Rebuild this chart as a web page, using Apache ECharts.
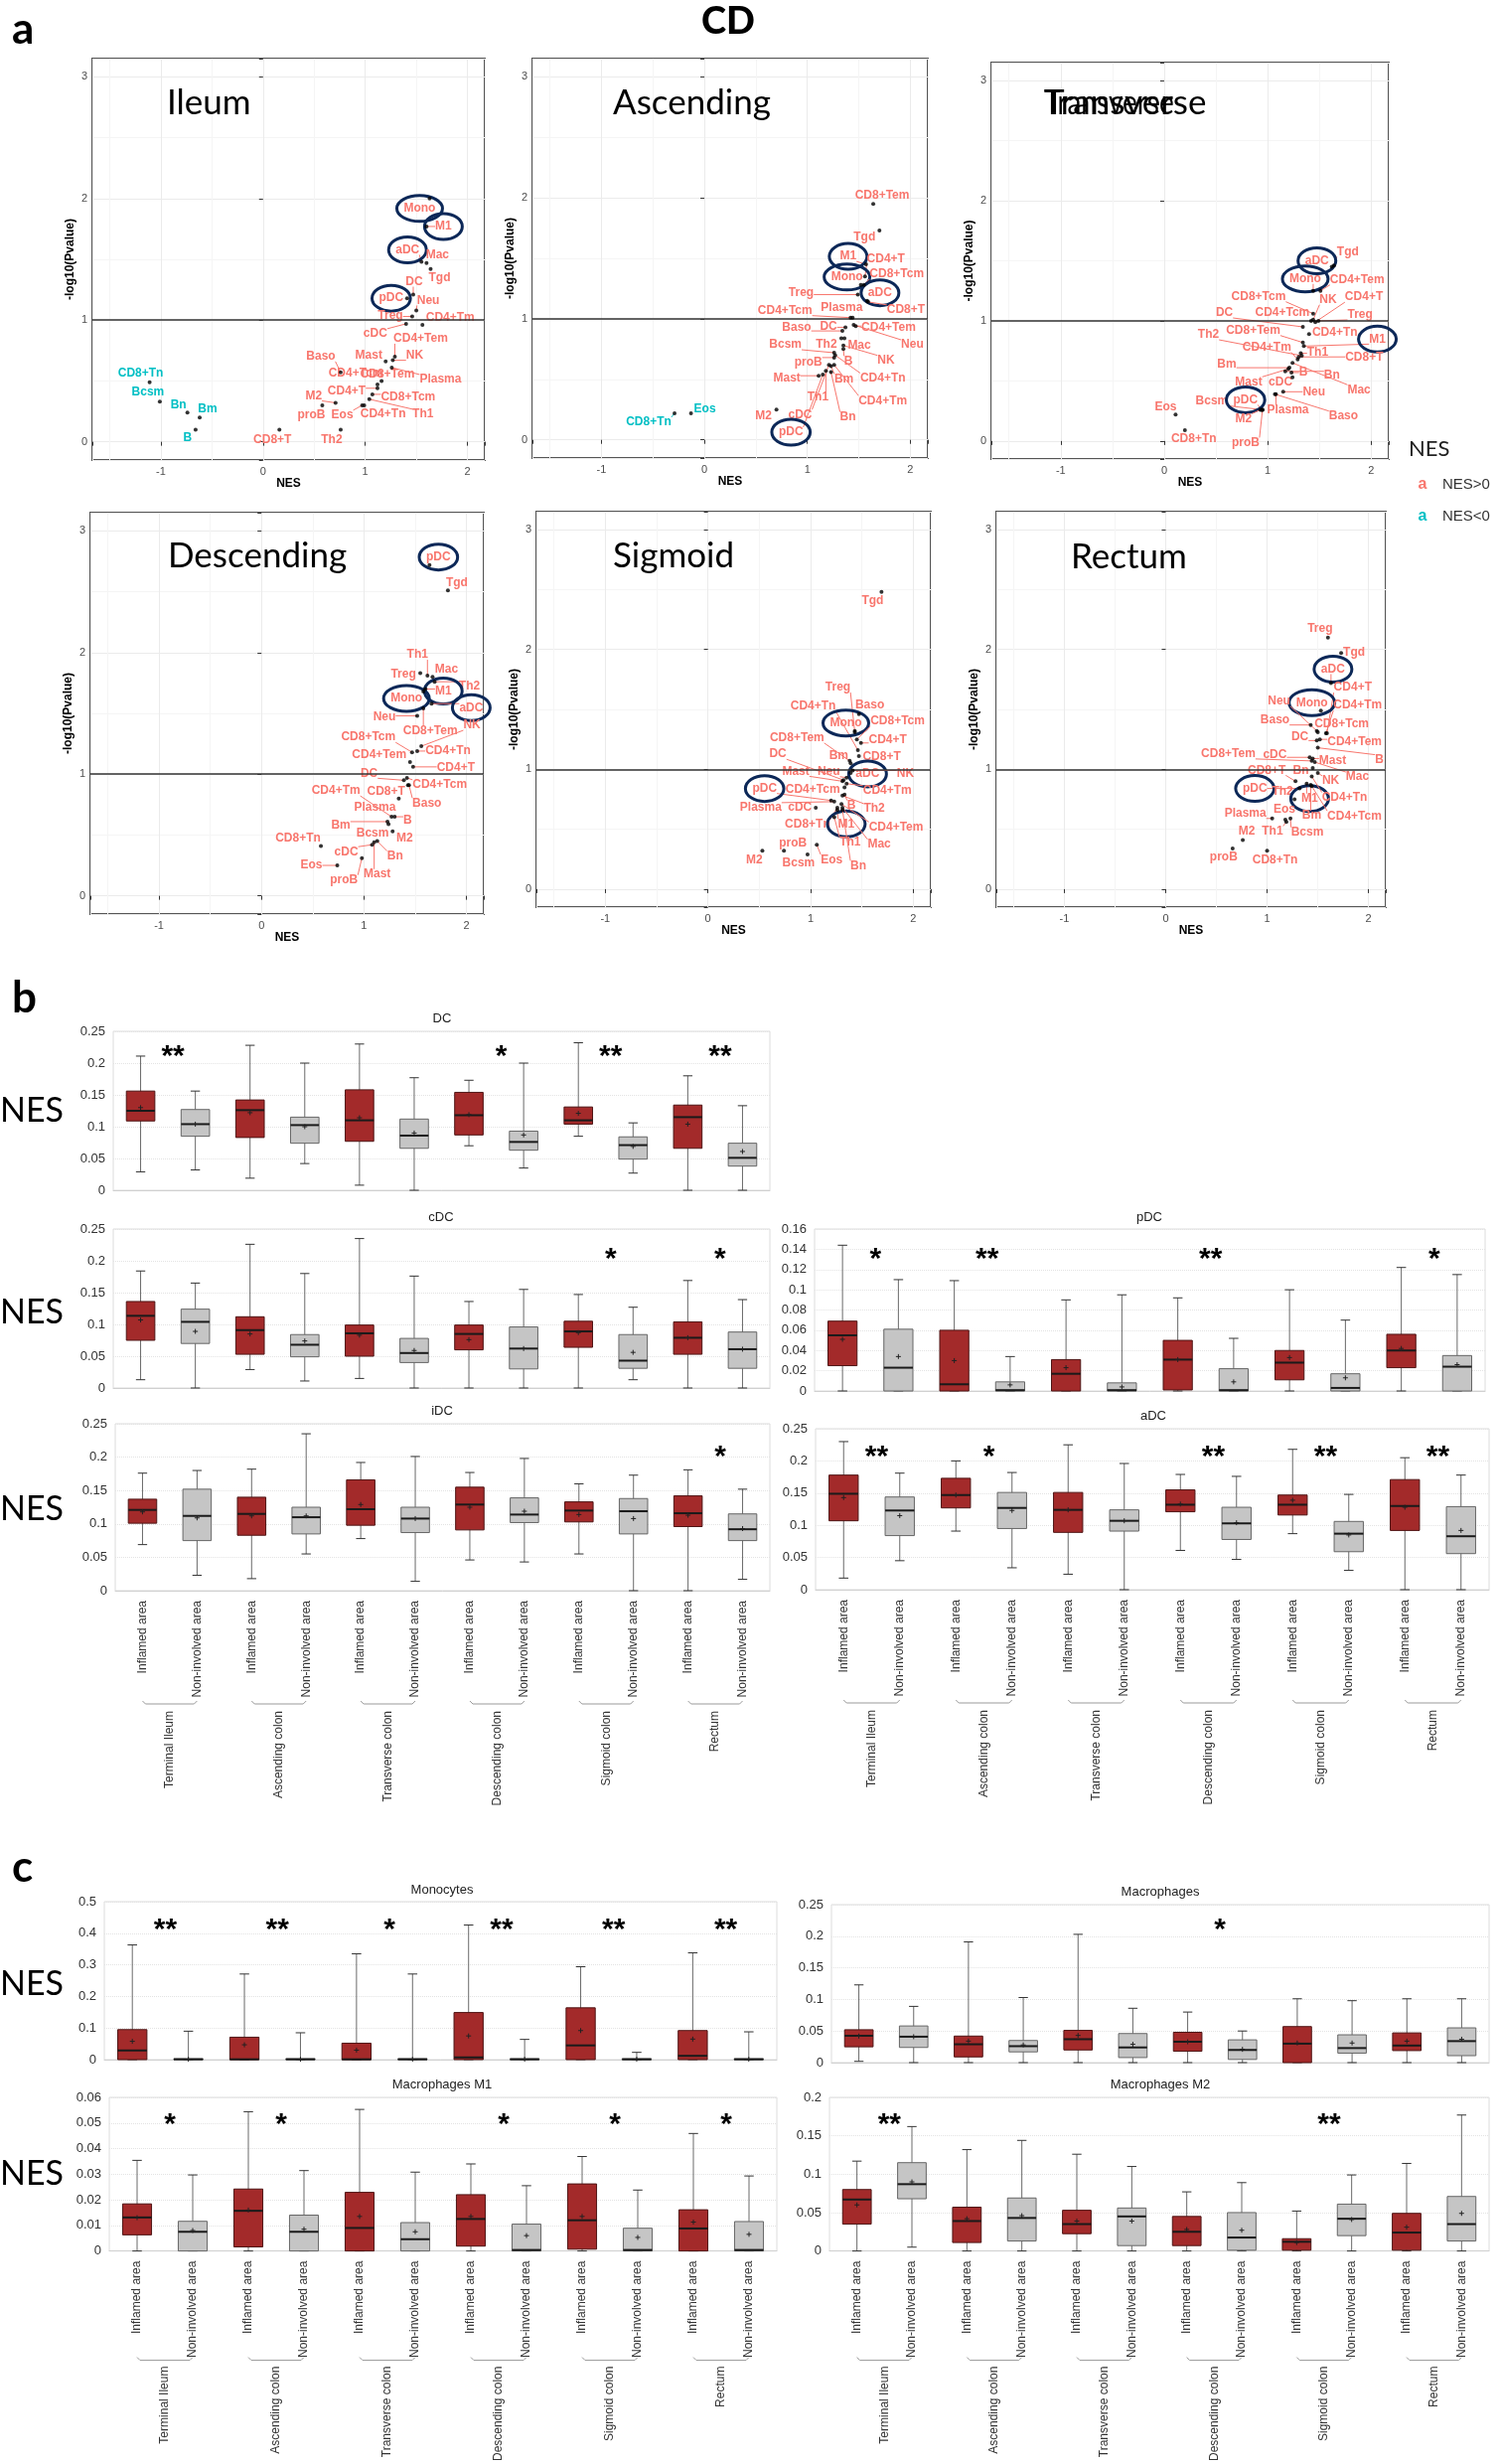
<!DOCTYPE html>
<html><head><meta charset="utf-8">
<script src="https://cdn.jsdelivr.net/npm/echarts@6/dist/echarts.min.js"></script>
<style>html,body{margin:0;padding:0;background:#fff}#c{width:1509px;height:2480px}</style>
</head><body><div id="c"></div>
<script>
// ======================= DATA : panel a (NES vs -log10 P) =======================
const ileumNames = ['Mono','M1','aDC','Mac','Tgd','DC','pDC','Neu','Treg','CD4+Tm','cDC','CD4+Tem','NK','Mast','Plasma','Baso','CD4+Tcm','CD8+Tem','CD4+T','CD8+Tcm','M2','CD4+Tn','Th1','proB','Eos','Th2','CD8+T','CD8+Tn','Bcsm','Bn','Bm','B'];
const ileumNES   = [1.63,1.60,1.55,1.60,1.64,1.47,1.41,1.50,1.46,1.56,1.40,1.29,1.27,1.20,1.26,0.76,1.16,1.12,1.12,1.07,0.71,0.99,1.04,0.58,0.97,0.76,0.16,-1.11,-1.01,-0.74,-0.62,-0.66];
const ileumLogP  = [2.00,1.77,1.48,1.47,1.42,1.21,1.18,1.08,1.03,0.96,0.97,0.70,0.67,0.66,0.61,0.57,0.50,0.47,0.44,0.39,0.32,0.30,0.35,0.30,0.30,0.10,0.10,0.49,0.33,0.24,0.20,0.10];

const ascNames = ['CD8+Tem','Tgd','M1','CD4+T','Mono','CD8+Tcm','aDC','Treg','CD8+T','CD4+Tcm','Plasma','Baso','DC','CD4+Tem','Neu','Bcsm','Th2','Mac','NK','proB','B','CD4+Tn','Mast','Bm','CD4+Tm','Th1','Bn','M2','cDC','pDC','Eos','CD8+Tn'];
const ascNES   = [1.64,1.70,1.57,1.56,1.52,1.55,1.58,1.49,1.59,1.42,1.44,1.34,1.37,1.47,1.45,1.26,1.33,1.36,1.35,1.26,1.35,1.27,1.11,1.23,1.26,1.18,1.23,0.70,1.21,1.15,-0.13,-0.29];
const ascLogP  = [1.95,1.73,1.45,1.35,1.28,1.28,1.15,1.20,1.14,1.01,1.01,0.90,0.93,0.94,0.95,0.72,0.84,0.84,0.78,0.68,0.75,0.70,0.53,0.61,0.62,0.57,0.56,0.25,0.62,0.54,0.22,0.22];

const trvNames = ['Tgd','aDC','Mono','CD4+Tem','CD8+Tcm','NK','CD4+T','DC','CD4+Tcm','Treg','Th2','CD8+Tem','CD4+Tn','M1','CD4+Tm','Th1','CD8+T','Bm','B','Bn','Mac','Mast','cDC','Neu','Baso','Bcsm','pDC','Plasma','M2','proB','Eos','CD8+Tn'];
const trvNES   = [1.64,1.62,1.44,1.51,1.44,1.44,1.46,1.34,1.42,1.49,1.33,1.34,1.40,1.35,1.29,1.32,1.30,1.21,1.23,1.17,1.24,1.20,1.24,1.15,1.07,0.95,0.94,1.08,0.93,0.95,0.11,0.20];
const trvLogP  = [1.46,1.45,1.25,1.25,1.06,1.01,0.99,0.95,1.00,1.00,0.71,0.82,0.89,0.79,0.68,0.73,0.70,0.61,0.57,0.58,0.65,0.60,0.53,0.41,0.39,0.26,0.26,0.39,0.26,0.26,0.22,0.09];

const desNames = ['pDC','Tgd','Th1','Mac','Treg','Th2','M1','Mono','aDC','Neu','CD8+Tem','NK','CD8+Tcm','CD4+Tn','CD4+Tem','CD4+T','DC','CD4+Tcm','CD4+Tm','CD8+T','Baso','Plasma','B','Bm','Bcsm','M2','CD8+Tn','cDC','Bn','Mast','Eos','proB'];
const desNES   = [1.64,1.82,1.62,1.67,1.55,1.69,1.60,1.58,1.66,1.52,1.58,1.56,1.47,1.52,1.45,1.48,1.39,1.42,1.27,1.43,1.44,1.34,1.30,1.23,1.24,1.28,0.58,1.08,1.13,1.10,0.74,0.98];
const desLogP  = [2.72,2.51,1.81,1.80,1.83,1.76,1.70,1.68,1.58,1.48,1.54,1.23,1.18,1.19,1.10,1.06,0.95,0.97,0.65,0.91,0.91,0.80,0.65,0.61,0.59,0.53,0.41,0.42,0.45,0.44,0.25,0.31];

const sigNames = ['Tgd','Treg','Baso','CD4+Tn','Mono','CD8+Tcm','CD4+T','CD8+Tem','Bm','CD8+T','DC','Mast','Neu','aDC','NK','pDC','CD4+Tcm','CD4+Tm','Plasma','cDC','B','Th2','CD8+Tn','M1','CD4+Tem','Th1','Mac','Bn','proB','M2','Bcsm','Eos'];
const sigNES   = [1.69,1.43,1.47,1.46,1.43,1.45,1.49,1.38,1.39,1.47,1.32,1.31,1.35,1.39,1.41,1.20,1.33,1.35,1.23,1.05,1.33,1.31,1.26,1.26,1.30,1.23,1.31,1.31,0.74,0.53,0.97,1.06];
const sigLogP  = [2.48,1.31,1.46,1.16,1.32,1.25,1.22,1.07,1.05,1.11,0.91,0.90,0.93,0.97,0.99,0.74,0.85,0.88,0.73,0.68,0.79,0.78,0.68,0.66,0.71,0.60,0.68,0.66,0.32,0.32,0.29,0.37];

const recNames = ['Treg','Tgd','aDC','CD4+T','Mono','Neu','CD4+Tm','Baso','CD8+Tcm','DC','CD4+Tem','B','CD8+Tem','cDC','Mast','Mac','CD8+T','Bn','NK','pDC','Th2','M1','CD4+Tn','Bm','CD4+Tcm','Plasma','Eos','Bcsm','Th1','M2','proB','CD8+Tn'];
const recNES   = [1.60,1.73,1.63,1.59,1.53,1.49,1.58,1.43,1.50,1.49,1.52,1.50,1.44,1.42,1.45,1.47,1.28,1.45,1.50,1.32,1.27,1.39,1.44,1.43,1.44,1.05,1.18,1.23,1.19,0.76,0.66,1.00];
const recLogP  = [2.10,1.97,1.72,1.30,1.49,1.32,1.30,1.37,1.31,1.24,1.25,1.18,1.07,1.10,1.09,1.06,0.90,1.01,0.97,0.84,0.75,0.88,0.94,0.87,0.86,0.59,0.58,0.59,0.56,0.41,0.34,0.32];

const circledCells = ['Mono','M1','aDC','pDC'];
const nesThreshold = 1;   // reference line at -log10(P) = 1

// label placement (pixel offsets of each label from its point, like ggrepel) – layout only
const ileumLabelPos = [[-10,10],[17,0],[-14,-12],[11,-8],[9,9],[1,-13],[-16,0],[12,-10],[-22,-1],[28,-7],[-31,10],[26,-18],[22,-5],[-17,-6],[49,12],[-20,-16],[-26,-8],[10,-10],[-31,3],[36,3],[-22,-7],[19,9],[54,15],[-11,10],[-20,10],[-9,10],[-7,10],[-9,-9],[-12,-10],[-9,-8],[8,-8],[-8,8]];
const ascLabelPos = [[9,-8],[-15,7],[-18,-8],[21,-18],[-14,-8],[33,-11],[13,-8],[-57,-2],[38,8],[-66,-7],[-11,-10],[-46,-3],[-17,-1],[33,1],[59,20],[-49,-8],[-15,6],[15,7],[43,15],[-26,5],[5,12],[48,23],[-32,3],[13,13],[49,36],[-8,26],[17,45],[-13,6],[-29,50],[-32,58],[14,-4],[-26,9]];
const trvLabelPos = [[14,-14],[-15,-6],[-8,-12],[37,-11],[-55,-17],[15,-20],[49,-25],[-79,-14],[-29,-8],[42,-6],[-94,-21],[-50,-12],[26,-2],[74,-7],[-31,-12],[17,-1],[66,0],[-63,-3],[12,0],[47,4],[67,27],[-40,13],[-12,5],[31,0],[69,22],[-51,-9],[-16,-10],[12,16],[-17,9],[-17,33],[-10,-8],[9,9]];
const desLabelPos = [[9,-8],[9,-8],[-10,-21],[14,-8],[-17,1],[35,5],[18,2],[-17,7],[40,4],[-33,1],[7,23],[51,-21],[-44,-15],[31,0],[-31,-7],[43,1],[-35,-7],[33,7],[-56,-26],[-22,6],[18,18],[-24,9],[13,4],[-47,4],[-16,9],[12,7],[-23,-8],[-26,7],[18,15],[3,32],[-26,0],[-18,22]];
const sigLabelPos = [[-9,9],[-17,-45],[11,-9],[-45,-44],[-9,-8],[41,-18],[27,-3],[-53,-23],[-12,-8],[23,1],[-66,-26],[-47,-10],[-18,-6],[17,1],[53,3],[-67,-12],[-32,2],[41,7],[-74,6],[-16,0],[7,11],[32,13],[-30,17],[9,14],[55,23],[16,25],[37,37],[16,56],[9,-8],[-8,9],[-9,9],[15,15]];
const recLabelPos = [[-8,-9],[13,-1],[2,-14],[26,-46],[-9,-8],[-38,-30],[32,-28],[-36,-5],[24,-8],[-17,-4],[35,3],[62,12],[-84,-7],[-35,-3],[20,2],[43,15],[-29,-11],[-12,3],[13,8],[-45,0],[-12,-8],[3,15],[33,21],[1,31],[43,30],[-27,-5],[-1,-10],[17,14],[-14,9],[4,-9],[-9,9],[8,9]];

// ======================= DATA : panels b & c (box plots) =======================
// each box: [min, Q1, median, Q3, max, mean]
const areaCats  = ['Inflamed area','Non-involved area','Inflamed area','Non-involved area','Inflamed area','Non-involved area','Inflamed area','Non-involved area','Inflamed area','Non-involved area','Inflamed area','Non-involved area'];
const groupCats = ['Terminal Ileum','Ascending colon','Transverse colon','Descending colon','Sigmoid colon','Rectum'];

const dcStats = [[0.029,0.109,0.125,0.156,0.211,0.130],[0.032,0.085,0.104,0.127,0.156,0.104],[0.019,0.083,0.126,0.142,0.228,0.122],[0.042,0.074,0.1025,0.115,0.200,0.100],[0.008,0.077,0.110,0.158,0.230,0.114],[0.000,0.066,0.086,0.112,0.177,0.090],[0.070,0.087,0.118,0.154,0.173,0.119],[0.035,0.063,0.076,0.093,0.200,0.087],[0.085,0.104,0.110,0.131,0.232,0.121],[0.027,0.049,0.071,0.084,0.106,0.069],[0.000,0.066,0.115,0.134,0.180,0.104],[0.000,0.038,0.051,0.074,0.133,0.061]];
const cdcStats = [[0.013,0.075,0.1135,0.136,0.184,0.107],[0.000,0.070,0.104,0.124,0.165,0.089],[0.029,0.053,0.091,0.112,0.226,0.085],[0.011,0.049,0.068,0.084,0.180,0.074],[0.015,0.050,0.086,0.099,0.235,0.083],[0.000,0.040,0.055,0.078,0.176,0.059],[0.000,0.060,0.085,0.099,0.136,0.076],[0.000,0.030,0.062,0.096,0.155,0.062],[0.000,0.064,0.089,0.105,0.147,0.087],[0.013,0.031,0.043,0.084,0.127,0.056],[0.000,0.053,0.079,0.104,0.169,0.079],[0.000,0.031,0.061,0.088,0.139,0.061]];
const pdcStats = [[0,0.025,0.055,0.069,0.144,0.051],[0,0,0.023,0.061,0.110,0.034],[0,0,0.0066,0.060,0.109,0.030],[0,0,0.0008,0.009,0.034,0.006],[0,0,0.017,0.031,0.090,0.023],[0,0,0.0008,0.008,0.095,0.004],[0,0.001,0.031,0.050,0.092,0.031],[0,0,0.0008,0.022,0.052,0.009],[0,0.011,0.028,0.040,0.100,0.033],[0,0,0.003,0.017,0.070,0.013],[0,0.023,0.040,0.056,0.122,0.042],[0,0,0.024,0.035,0.115,0.026]];
const idcStats = [[0.069,0.101,0.121,0.137,0.176,0.118],[0.023,0.075,0.112,0.152,0.180,0.109],[0.018,0.083,0.115,0.140,0.182,0.112],[0.055,0.085,0.110,0.125,0.235,0.112],[0.078,0.098,0.122,0.166,0.192,0.129],[0.014,0.087,0.108,0.125,0.201,0.108],[0.046,0.091,0.129,0.155,0.177,0.125],[0.043,0.102,0.114,0.139,0.198,0.119],[0.055,0.103,0.120,0.133,0.160,0.114],[0.000,0.085,0.119,0.138,0.173,0.108],[0.000,0.096,0.116,0.142,0.181,0.113],[0.017,0.075,0.092,0.115,0.152,0.093]];
const adcStats = [[0.018,0.107,0.149,0.178,0.230,0.143],[0.045,0.084,0.123,0.144,0.181,0.115],[0.091,0.127,0.147,0.173,0.200,0.147],[0.034,0.095,0.127,0.151,0.182,0.123],[0.024,0.089,0.124,0.151,0.225,0.124],[0.000,0.091,0.107,0.124,0.196,0.107],[0.061,0.121,0.132,0.155,0.179,0.133],[0.047,0.078,0.103,0.128,0.176,0.104],[0.087,0.116,0.132,0.147,0.218,0.139],[0.030,0.059,0.087,0.106,0.148,0.085],[0.000,0.092,0.130,0.171,0.205,0.128],[0.000,0.056,0.083,0.129,0.178,0.092]];
const monoStats = [[0,0,0.029,0.095,0.363,0.058],[0,0,0.001,0.003,0.090,0.001],[0,0,0.001,0.071,0.271,0.047],[0,0,0.001,0.003,0.085,0.001],[0,0,0.001,0.052,0.335,0.030],[0,0,0.001,0.003,0.271,0.001],[0,0,0.007,0.149,0.426,0.075],[0,0,0.001,0.003,0.064,0.001],[0,0,0.045,0.164,0.294,0.092],[0,0,0.001,0.003,0.023,0.001],[0,0,0.012,0.092,0.338,0.065],[0,0,0.001,0.003,0.088,0.001]];
const macStats = [[0.002,0.025,0.0425,0.052,0.123,0.042],[0,0.024,0.041,0.058,0.089,0.041],[0,0.009,0.029,0.042,0.191,0.034],[0,0.017,0.026,0.035,0.103,0.028],[0,0.020,0.037,0.051,0.203,0.043],[0,0.008,0.024,0.046,0.086,0.029],[0,0.018,0.033,0.048,0.080,0.033],[0,0.005,0.020,0.036,0.050,0.021],[0,0,0.030,0.057,0.101,0.031],[0,0.015,0.023,0.044,0.098,0.031],[0,0.019,0.027,0.047,0.101,0.034],[0,0.011,0.034,0.055,0.101,0.037]];
const m1Stats = [[0,0.0063,0.0131,0.0184,0.0354,0.013],[0,0,0.0075,0.0116,0.0297,0.008],[0,0.0016,0.0157,0.0242,0.0544,0.016],[0,0,0.0075,0.0140,0.0314,0.0085],[0,0,0.0090,0.0229,0.0553,0.0135],[0,0,0.0046,0.0111,0.0308,0.0075],[0,0.0019,0.0125,0.0220,0.0340,0.0135],[0,0,0.0004,0.0105,0.0255,0.006],[0,0.0007,0.0120,0.0262,0.0369,0.0135],[0,0,0.0004,0.0089,0.0238,0.0053],[0,0,0.0088,0.0161,0.0459,0.0113],[0,0,0.0004,0.0115,0.0293,0.0065]];
const m2Stats = [[0,0.035,0.067,0.080,0.117,0.060],[0.005,0.068,0.087,0.115,0.162,0.090],[0,0.011,0.039,0.057,0.132,0.042],[0,0.013,0.043,0.069,0.144,0.046],[0,0.0225,0.035,0.053,0.126,0.039],[0,0.007,0.045,0.056,0.110,0.039],[0,0.007,0.025,0.045,0.077,0.028],[0,0.001,0.0175,0.050,0.089,0.027],[0,0.001,0.012,0.016,0.052,0.011],[0,0.020,0.042,0.061,0.099,0.041],[0,0.001,0.024,0.049,0.114,0.031],[0,0.013,0.035,0.071,0.177,0.049]];

// significance marks per region pair
const dcSig   = ['**','','','*','**','**'];
const cdcSig  = ['','','','','*','*'];
const pdcSig  = ['*','**','','**','','*'];
const idcSig  = ['','','','','','*'];
const adcSig  = ['**','*','','**','**','**'];
const monoSig = ['**','**','*','**','**','**'];
const macSig  = ['','','','*','',''];
const m1Sig   = ['*','*','','*','*','*'];
const m2Sig   = ['**','','','','**',''];

// y-axis scale (max, interval) for each box panel
const dcAxis=[0.25,0.05], cdcAxis=[0.25,0.05], pdcAxis=[0.16,0.02], idcAxis=[0.25,0.05], adcAxis=[0.25,0.05];
const monoAxis=[0.5,0.1], macAxis=[0.25,0.05], m1Axis=[0.06,0.01], m2Axis=[0.2,0.05];

// ======================= STYLE / LAYOUT =======================
const SALMON='#F8766D', TEAL='#00BFC4', NAVY='#0C2858';
const RED='#A32A2A', RED_EDGE='#4E1414', GRAY='#C5C5C5', GRAY_EDGE='#666666';
const LABEL_FONT = 'bold 12px "Liberation Sans", Arial, sans-serif';
const SANS = '"Liberation Sans", Arial, sans-serif';
const STAR_SHIFT = 5;

const _ctx = document.createElement('canvas').getContext('2d');
function textW(t, font){ _ctx.font = font; return _ctx.measureText(t).width; }

const grids=[], xAxes=[], yAxes=[], series=[];
function intOnly(v){ return Math.abs(v-Math.round(v))<1e-6 ? String(Math.round(v)) : ''; }

function addScatter(rect, names, nes, logp, labPos){
  const g = grids.length;
  grids.push({left:rect[0], top:rect[1], width:rect[2], height:rect[3], show:true, borderColor:'#555', borderWidth:2, backgroundColor:'#fff'});
  xAxes.push({gridIndex:g, type:'value', min:-1.67, max:2.17, splitNumber:4, minInterval:1,
    axisLine:{show:false}, axisTick:{show:true, length:4, lineStyle:{color:'#333'}},
    axisLabel:{fontSize:11, color:'#4d4d4d', margin:6, formatter:intOnly, fontFamily:SANS},
    splitLine:{show:true, lineStyle:{color:'#ebebeb', width:1}},
    minorTick:{show:false, splitNumber:2}, minorSplitLine:{show:true, lineStyle:{color:'#f5f5f5'}},
    name:'NES', nameLocation:'middle', nameGap:18, nameTextStyle:{fontWeight:'bold', fontSize:12, color:'#000', fontFamily:SANS}});
  yAxes.push({gridIndex:g, type:'value', min:-0.15, max:3.15, splitNumber:4, minInterval:1,
    axisLine:{show:false}, axisTick:{show:true, length:4, lineStyle:{color:'#333'}},
    axisLabel:{fontSize:11, color:'#4d4d4d', margin:5, formatter:intOnly, fontFamily:SANS},
    splitLine:{show:true, lineStyle:{color:'#ebebeb', width:1}},
    minorTick:{show:false, splitNumber:2}, minorSplitLine:{show:true, lineStyle:{color:'#f5f5f5'}},
    name:'-log10(Pvalue)', nameLocation:'middle', nameGap:16, nameTextStyle:{fontWeight:'bold', fontSize:12, color:'#000', fontFamily:SANS}});
  // repelled labels, leader segments, highlight ellipses
  series.push({type:'custom', xAxisIndex:g, yAxisIndex:g, z:3, silent:true,
    data: nes.map((v,i)=>[v, logp[i], i]),
    encode:{x:0, y:1},
    renderItem(params, api){
      const i = api.value(2);
      const p = api.coord([api.value(0), api.value(1)]);
      const o = labPos[i];
      const cx = p[0]+o[0], cy = p[1]+o[1];
      const name = names[i];
      const col = nes[i] >= 0 ? SALMON : TEAL;
      const w = textW(name, LABEL_FONT), h = 10;
      const nx = Math.min(Math.max(p[0], cx-w/2), cx+w/2);
      const ny = Math.min(Math.max(p[1], cy-h/2), cy+h/2);
      const ch = [];
      if (Math.hypot(nx-p[0], ny-p[1]) > 5) {
        ch.push({type:'line', shape:{x1:p[0], y1:p[1], x2:nx, y2:ny}, style:{stroke:col, lineWidth:1}});
      }
      ch.push({type:'text', x:cx, y:cy, style:{text:name, fill:col, font:LABEL_FONT, align:'center', verticalAlign:'middle', textAlign:'center', textVerticalAlign:'middle'}});
      if (circledCells.indexOf(name) >= 0) {
        ch.push({type:'ellipse', shape:{cx:cx, cy:cy, rx:Math.max(19, w/2+7), ry:13}, style:{fill:'none', stroke:NAVY, lineWidth:3}});
      }
      return {type:'group', children:ch};
    }
  });
  series.push({type:'scatter', xAxisIndex:g, yAxisIndex:g, z:5, silent:true, symbolSize:4,
    itemStyle:{color:'#000'}, data: nes.map((v,i)=>[v, logp[i]]),
    markLine:{silent:true, symbol:['none','none'], label:{show:false}, lineStyle:{color:'#333', width:1.6, type:'solid'}, data:[{yAxis:nesThreshold}]}});
}

function addBox(rect, stats, axisDef, sig, starDy, withLabels){
  const g = grids.length;
  grids.push({left:rect[0], top:rect[1], width:rect[2], height:rect[3], show:true, borderColor:'#dcdcdc', borderWidth:1, backgroundColor:'#fff'});
  const xi = xAxes.length;
  xAxes.push({gridIndex:g, type:'category', data:areaCats, boundaryGap:true, position:'bottom',
    axisLine:{show:true, lineStyle:{color:'#d0d0d0'}}, axisTick:{show:false},
    axisLabel: withLabels ? {show:true, rotate:90, interval:0, fontSize:12, color:'#333', margin:10, fontFamily:SANS} : {show:false},
    splitLine:{show:false}});
  if (withLabels) {
    xAxes.push({gridIndex:g, type:'category', data:groupCats, boundaryGap:true, position:'bottom', offset:0,
      axisLine:{show:false}, axisTick:{show:false}, splitLine:{show:false},
      axisLabel:{show:true, rotate:90, interval:0, fontSize:12, color:'#333', margin:withLabels.groupMargin, fontFamily:SANS}});
  }
  yAxes.push({gridIndex:g, type:'value', min:0, max:axisDef[0], interval:axisDef[1],
    axisLine:{show:false}, axisTick:{show:false},
    axisLabel:{fontSize:13, color:'#333', margin:8, fontFamily:SANS},
    splitLine:{show:true, lineStyle:{color:'#e3e3e3', type:'dotted'}}});
  series.push({type:'custom', xAxisIndex:xi, yAxisIndex:g, z:3, silent:true,
    data: stats.map((s,i)=>[i, s[0], s[1], s[2], s[3], s[4], s[5]]),
    encode:{x:0, y:[1,2,3,4,5]},
    renderItem(params, api){
      const i = api.value(0);
      const x = api.coord([i, 0])[0];
      const band = api.size([1, 0])[0];
      const bw = band*0.52, cw = band*0.17;
      const yv = k => api.coord([i, api.value(k)])[1];
      const yMin=yv(1), yQ1=yv(2), yMed=yv(3), yQ3=yv(4), yMax=yv(5), yMean=yv(6);
      const infl = i%2===0;
      const fill = infl ? RED : GRAY, edge = infl ? RED_EDGE : GRAY_EDGE;
      return {type:'group', children:[
        {type:'line', shape:{x1:x, y1:yMax, x2:x, y2:yMin}, style:{stroke:'#444', lineWidth:0.8}},
        {type:'line', shape:{x1:x-cw/2, y1:yMax, x2:x+cw/2, y2:yMax}, style:{stroke:'#333', lineWidth:1}},
        {type:'line', shape:{x1:x-cw/2, y1:yMin, x2:x+cw/2, y2:yMin}, style:{stroke:'#333', lineWidth:1}},
        {type:'rect', shape:{x:x-bw/2, y:yQ3, width:bw, height:Math.max(yQ1-yQ3, 1)}, style:{fill:fill, stroke:edge, lineWidth:1}},
        {type:'line', shape:{x1:x-bw/2, y1:yMed, x2:x+bw/2, y2:yMed}, style:{stroke:'#1a1a1a', lineWidth:2}},
        {type:'line', shape:{x1:x-2.5, y1:yMean, x2:x+2.5, y2:yMean}, style:{stroke:'#222', lineWidth:1}},
        {type:'line', shape:{x1:x, y1:yMean-2.5, x2:x, y2:yMean+2.5}, style:{stroke:'#222', lineWidth:1}}
      ]};
    }
  });
  // significance asterisks
  series.push({type:'custom', xAxisIndex:xi, yAxisIndex:g, z:4, silent:true,
    data: sig.map((s,k)=>[2*k, 0]), encode:{x:0, y:1},
    renderItem(params, api){
      const k = params.dataIndex;
      if (!sig[k]) return {type:'group', children:[]};
      const x = (api.coord([2*k, 0])[0] + api.coord([2*k+1, 0])[0]) / 2 + STAR_SHIFT;
      const y = api.coord([0, axisDef[0]])[1] + starDy;
      return {type:'text', x:x, y:y, style:{text:sig[k], fill:'#000', font:'bold 30px "Liberation Sans", Arial, sans-serif', align:'center', verticalAlign:'middle', textAlign:'center', textVerticalAlign:'middle'}};
    }
  });
  if (withLabels) {
    series.push({type:'custom', xAxisIndex:xi, yAxisIndex:g, z:4, silent:true,
      data: groupCats.map((c,k)=>[2*k, 0]), encode:{x:0, y:1},
      renderItem(params, api){
        const k = params.dataIndex;
        const x1 = api.coord([2*k, 0])[0], x2 = api.coord([2*k+1, 0])[0];
        const yb = api.coord([0, 0])[1] + withLabels.bracket;
        return {type:'polyline', shape:{points:[[x1,yb-3],[x1+3,yb],[x2-3,yb],[x2,yb-3]]}, style:{stroke:'#999', lineWidth:1, fill:'none'}};
      }
    });
  }
}

// ----- panel a -----
addScatter([93,59,395,404],  ileumNames, ileumNES, ileumLogP, ileumLabelPos);
addScatter([536,59,398,402], ascNames,   ascNES,   ascLogP,   ascLabelPos);
addScatter([998,63,400,399], trvNames,   trvNES,   trvLogP,   trvLabelPos);
addScatter([91,516,396,404], desNames,   desNES,   desLogP,   desLabelPos);
addScatter([540,515,397,398],sigNames,   sigNES,   sigLogP,   sigLabelPos);
addScatter([1003,515,392,398],recNames,  recNES,   recLogP,   recLabelPos);
// ----- panel b -----
const bLab = {groupMargin:121, bracket:114};
const cLab = {groupMargin:116, bracket:110};
addBox([114,1038,661,160], dcStats,  dcAxis,  dcSig,  26, null);
addBox([114,1237,661,160], cdcStats, cdcAxis, cdcSig, 31, null);
addBox([820,1237,675,163], pdcStats, pdcAxis, pdcSig, 31, null);
addBox([116,1433,659,168], idcStats, idcAxis, idcSig, 34, bLab);
addBox([821,1438,678,162], adcStats, adcAxis, adcSig, 29, bLab);
// ----- panel c -----
addBox([105,1914,677,159], monoStats, monoAxis, monoSig, 29, null);
addBox([837,1917,662,159], macStats,  macAxis,  macSig,  26, null);
addBox([110,2111,672,162], m1Stats,   m1Axis,   m1Sig,   28, cLab);
addBox([835,2111,664,160], m2Stats,   m2Axis,   m2Sig,   28, cLab);

// ----- texts -----
function txt(t, x, y, font, fill, align, extra){
  return Object.assign({type:'text', x:x, y:y, silent:true, z:10,
    style:{text:t, font:font, fill:fill||'#000', align:align||'left', verticalAlign:'middle', textAlign:align||'left', textVerticalAlign:'middle'}}, extra||{});
}
const graphics = [
  txt('a', 12, 30, 'bold 44px Lato, sans-serif'),
  txt('CD', 733, 22, '900 38px Lato, sans-serif', '#000', 'center'),
  txt('Ileum', 168, 104, '35px Lato, sans-serif'),
  txt('Ascending', 617, 104, '35px Lato, sans-serif'),
  txt('Transverse', 1051, 104, '35px Lato, sans-serif'),
  txt('Transverse', 1051, 104, '35px Lato, sans-serif', '#000', 'left', {scaleX:0.8}),
  txt('Descending', 169, 560, '35px Lato, sans-serif'),
  txt('Sigmoid', 617, 560, '35px Lato, sans-serif'),
  txt('Rectum', 1078, 561, '35px Lato, sans-serif'),
  txt('NES', 1418, 452, '22px Lato, sans-serif', '#222'),
  txt('a', 1432, 488, 'bold 16px ' + SANS, SALMON, 'center'),
  txt('NES>0', 1452, 488, '15px ' + SANS, '#333'),
  txt('a', 1432, 520, 'bold 16px ' + SANS, TEAL, 'center'),
  txt('NES<0', 1452, 520, '15px ' + SANS, '#333'),
  txt('b', 12, 1005, 'bold 44px Lato, sans-serif'),
  txt('c', 12, 1880, 'bold 44px Lato, sans-serif'),
  txt('DC', 445, 1025, '13px ' + SANS, '#222', 'center'),
  txt('cDC', 444, 1225, '13px ' + SANS, '#222', 'center'),
  txt('pDC', 1157, 1225, '13px ' + SANS, '#222', 'center'),
  txt('iDC', 445, 1420, '13px ' + SANS, '#222', 'center'),
  txt('aDC', 1161, 1425, '13px ' + SANS, '#222', 'center'),
  txt('Monocytes', 445, 1902, '13px ' + SANS, '#222', 'center'),
  txt('Macrophages', 1168, 1904, '13px ' + SANS, '#222', 'center'),
  txt('Macrophages M1', 445, 2098, '13px ' + SANS, '#222', 'center'),
  txt('Macrophages M2', 1168, 2098, '13px ' + SANS, '#222', 'center'),
  txt('NES', 0, 1118, '34px Lato, sans-serif'),
  txt('NES', 0, 1321, '34px Lato, sans-serif'),
  txt('NES', 0, 1519, '34px Lato, sans-serif'),
  txt('NES', 0, 1997, '34px Lato, sans-serif'),
  txt('NES', 0, 2188, '34px Lato, sans-serif')
];

const chart = echarts.init(document.getElementById('c'), null, {renderer:'canvas', width:1509, height:2480});
chart.setOption({
  backgroundColor:'#fff', animation:false,
  grid:grids, xAxis:xAxes, yAxis:yAxes, series:series, graphic:graphics
});
</script></body></html>
